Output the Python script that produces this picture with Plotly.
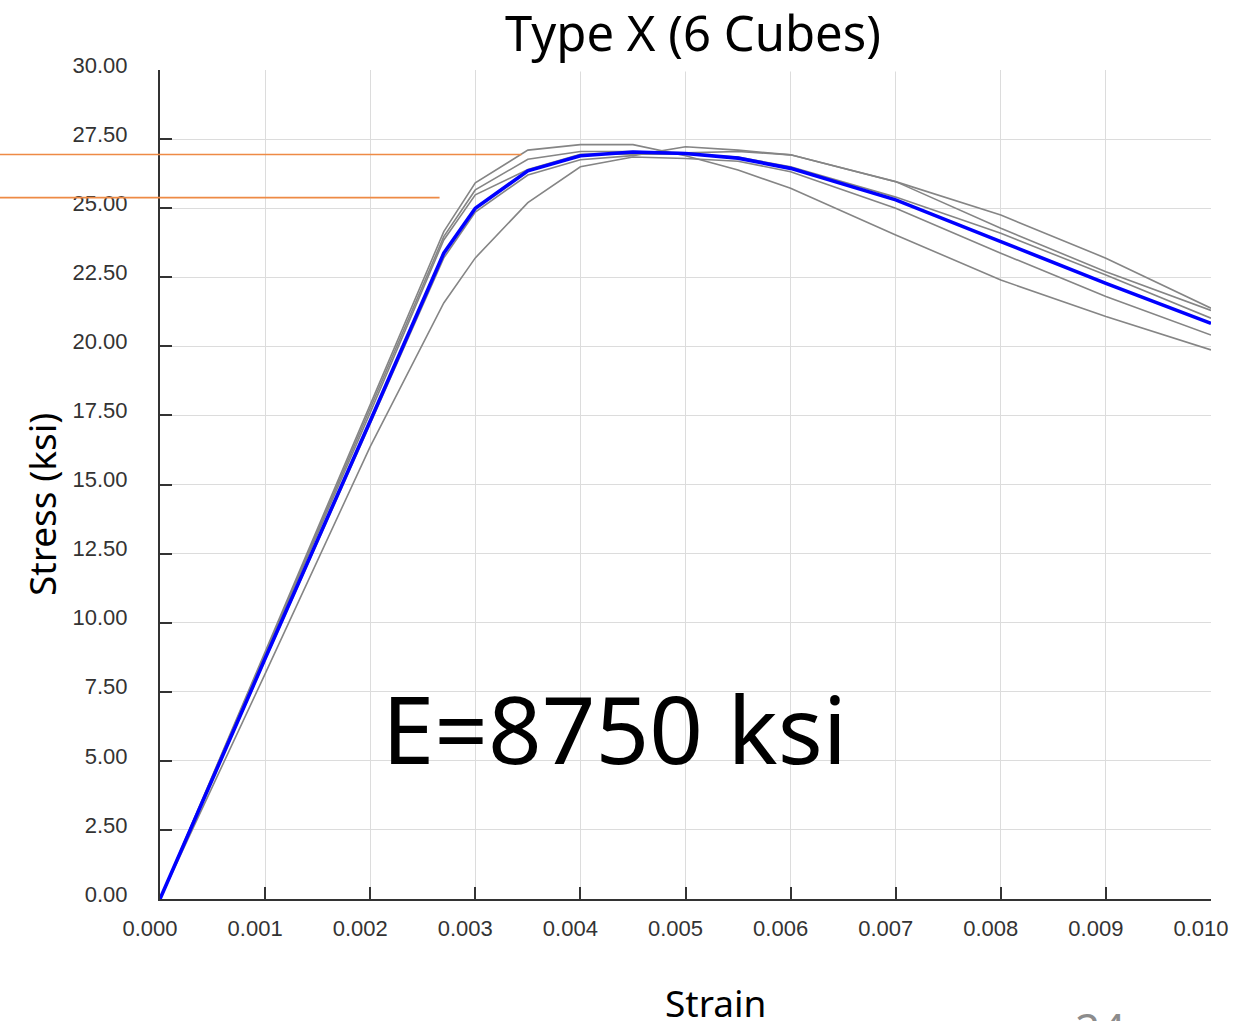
import plotly.graph_objects as go

# ---- data ----
STRAIN = [0, 0.001, 0.002, 0.0027, 0.003, 0.0035, 0.004, 0.0045, 0.005, 0.0055, 0.006, 0.007, 0.008, 0.009, 0.010]
CUBE_A = [0, 8.95, 17.85, 24.15, 25.92, 27.10, 27.30, 27.30, 26.90, 26.38, 25.72, 24.03, 22.40, 21.08, 19.87]
CUBE_B = [0, 8.90, 17.75, 23.97, 25.66, 26.77, 27.05, 27.05, 27.00, 27.05, 26.93, 25.96, 24.27, 22.70, 21.30]
CUBE_C = [0, 8.85, 17.60, 23.85, 25.48, 26.40, 26.95, 26.95, 26.95, 26.85, 26.50, 25.40, 24.09, 22.58, 21.02]
CUBE_D = [0, 8.65, 17.20, 23.20, 24.86, 26.20, 26.75, 26.90, 27.22, 27.10, 26.93, 25.96, 24.75, 23.19, 21.38]
CUBE_E = [0, 8.15, 16.37, 21.57, 23.20, 25.20, 26.50, 26.85, 26.80, 26.70, 26.32, 25.00, 23.37, 21.80, 20.41]
AVERAGE = [0, 8.70, 17.30, 23.37, 25.00, 26.35, 26.90, 27.03, 26.98, 26.81, 26.44, 25.30, 23.79, 22.28, 20.83]

ORANGE_LEVELS = [26.94, 25.38]
ORANGE_ENDS = [0.00344, 0.00266]

X_RANGE = [0, 0.010]
Y_RANGE = [0, 30]

TITLE = "Type X (6 Cubes)"
Y_TITLE = "Stress (ksi)"
X_TITLE = "Strain"
MODULUS_TEXT = "E=8750 ksi"
PAGE_NUMBER = "24"

# body margin is removed by the post script, so page pixels == figure pixels
W, H = 1258, 1021
PL, PR, PT, PB = 160, 1211, 70, 899  # plot area in page pixels
ML, MT = PL, PT
MR = W - PR
MB = H - PB
PW = PR - PL
PH = PB - PT


def px(xp):
    return (xp - PL) / PW


def py(yp):
    return (PB - yp) / PH


fig = go.Figure()
for ys in [CUBE_A, CUBE_B, CUBE_C, CUBE_D, CUBE_E]:
    fig.add_trace(go.Scatter(x=STRAIN, y=ys, mode="lines",
                             line=dict(color="#858585", width=1.6), showlegend=False))
fig.add_trace(go.Scatter(x=STRAIN, y=AVERAGE, mode="lines",
                         line=dict(color="#0000ff", width=3.6), showlegend=False))

tickfont = dict(family="Liberation Sans, Arial, sans-serif", size=22, color="#333333")
fig.update_xaxes(range=X_RANGE, dtick=0.001, tick0=0, tickformat=".3f",
                 showgrid=True, gridcolor="#dcdcdc", gridwidth=1,
                 showline=True, linecolor="#333333", linewidth=2,
                 ticks="inside", ticklen=12, tickwidth=2, tickcolor="#333333",
                 tickfont=tickfont, zeroline=False,
                 ticklabelstandoff=9, ticklabelshift=-10)
fig.update_yaxes(range=Y_RANGE, dtick=2.5, tick0=0, tickformat=".2f",
                 showgrid=True, gridcolor="#dcdcdc", gridwidth=1,
                 showline=True, linecolor="#333333", linewidth=2,
                 ticks="inside", ticklen=12, tickwidth=2, tickcolor="#333333",
                 tickfont=tickfont, zeroline=False,
                 ticklabelstandoff=26, ticklabelshift=-5)

shapes = []
# white box behind the title hiding the top gridline
shapes.append(dict(type="rect", xref="paper", yref="paper",
                   x0=px(478), x1=px(910), y0=py(71.5), y1=py(0),
                   fillcolor="white", line=dict(width=0), layer="above"))
for lvl, xe in zip(ORANGE_LEVELS, ORANGE_ENDS):
    shapes.append(dict(type="line", xref="paper", yref="y",
                       x0=px(0), x1=(xe - X_RANGE[0]) / (X_RANGE[1] - X_RANGE[0]),
                       y0=lvl, y1=lvl, line=dict(color="#ee8a45", width=1.6), layer="above"))
fig.update_layout(shapes=shapes)

cal = "Noto Sans, Open Sans, sans-serif"
annotations = [
    dict(text=TITLE, xref="paper", yref="paper", x=px(693), y=py(32),
         showarrow=False, font=dict(family=cal, size=49, color="black"),
         xanchor="center", yanchor="middle"),
    dict(text=Y_TITLE, xref="paper", yref="paper", x=px(42), y=py(505),
         showarrow=False, textangle=-90, font=dict(family=cal, size=37, color="black"),
         xanchor="center", yanchor="middle"),
    dict(text=X_TITLE, xref="paper", yref="paper", x=px(715), y=py(1002),
         showarrow=False, font=dict(family=cal, size=37, color="black"),
         xanchor="center", yanchor="middle"),
    dict(text=MODULUS_TEXT, xref="paper", yref="paper", x=px(614), y=py(728),
         showarrow=False, font=dict(family=cal, size=94, color="black"),
         xanchor="center", yanchor="middle"),
    dict(text=PAGE_NUMBER, xref="paper", yref="paper", x=px(1100), y=py(1028),
         showarrow=False, font=dict(family=cal, size=44, color="#8c8c8c"),
         xanchor="center", yanchor="middle"),
]
fig.update_layout(annotations=annotations)

fig.update_layout(width=W, height=H, margin=dict(l=ML, r=MR, t=MT, b=MB),
                  paper_bgcolor="white", plot_bgcolor="white", showlegend=False)

fig.write_html("out.html", config={"displayModeBar": False},
               post_script="document.body.style.margin='0';document.body.style.overflow='hidden';")
